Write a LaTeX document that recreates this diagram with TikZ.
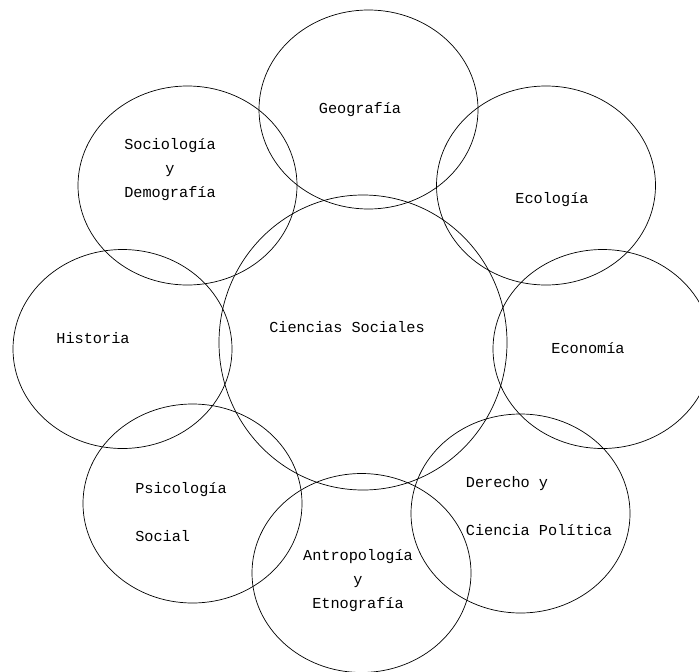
\documentclass[tikz,border=0pt]{standalone}
\usepackage{fontspec}
\setmonofont{Liberation Mono}
\usetikzlibrary{shapes.geometric}

\begin{document}
\begin{tikzpicture}[x=0.03cm, y=-0.03cm, line width=0.6pt]

    % --- 1. estilos ---
    \tikzset{
        area/.style={ellipse, draw, inner sep=0pt, minimum width=6.57cm, minimum height=5.97cm},
        core/.style={ellipse, draw, inner sep=0pt, minimum width=8.64cm, minimum height=8.85cm},
        lbl/.style={font=\ttfamily\fontsize{13}{20.5}\selectfont, inner sep=0pt}
    }
    \useasboundingbox (0,0) rectangle (699,671);

    % --- 2. elipses ---
    \node[core] (cs) at (363,342.5) {};
    \foreach \n/\x/\y in {geo/368.5/109.5, eco/546/185.5, econ/602.5/349,
                          der/520.5/513.5, ant/361.5/573, psi/192.5/503.5,
                          his/122.5/349, soc/187.5/185.5}
        \node[area] (\n) at (\x,\y) {};

    % --- 3. textos ---
    \node[lbl] (cs-t)   at (347,327) {Ciencias Sociales};
    \node[lbl] (geo-t)  at (360,110) {Geografía};
    \node[lbl] (eco-t)  at (552,200) {Ecología};
    \node[lbl] (econ-t) at (588,348) {Economía};
    \node[lbl] (his-t)  at (93,338)  {Historia};
    \node[lbl, align=center] (soc-t) at (170,170) {Sociología\\y\\Demografía};
    \node[lbl, align=left]   (psi-t) at (181,512) {Psicología\\ \\Social};
    \node[lbl, align=left]   (der-t) at (539,506) {Derecho y\\ \\Ciencia Política};
    \node[lbl, align=center] (ant-t) at (358,581) {Antropología\\y\\Etnografía};

\end{tikzpicture}
\end{document}
